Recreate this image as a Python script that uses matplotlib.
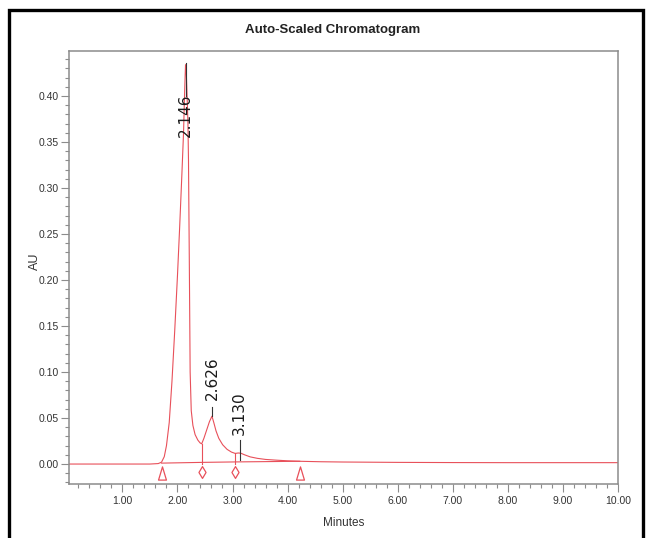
import numpy as np
import matplotlib
matplotlib.use("Agg")
import matplotlib.pyplot as plt
from matplotlib import font_manager
from matplotlib.path import Path
from matplotlib.ticker import MultipleLocator, FormatStrFormatter

# condensed font if we have one
names = {f.name for f in font_manager.fontManager.ttflist}
narrow = 'Liberation Sans Narrow' if 'Liberation Sans Narrow' in names else 'Liberation Sans'

# chromatogram trace (minutes, AU)
minutes = [0.03, 0.5, 1.0, 1.5, 1.65, 1.71, 1.76, 1.80, 1.85, 1.90, 1.95, 2.00,
           2.04, 2.08, 2.11, 2.13, 2.146, 2.16, 2.18, 2.19, 2.20, 2.215, 2.23,
           2.25, 2.28, 2.32, 2.37, 2.41, 2.44, 2.48, 2.53, 2.58, 2.626, 2.66,
           2.70, 2.75, 2.82, 2.90, 2.98, 3.05, 3.10, 3.15, 3.22, 3.32, 3.45,
           3.60, 3.80, 4.00, 4.22, 4.6, 5.0, 6.0, 7.0, 8.0, 9.0, 10.0]
au = [0.0, 0.0, 0.0, 0.0, 0.0005, 0.002, 0.008, 0.020, 0.045, 0.090, 0.145, 0.205,
      0.258, 0.315, 0.360, 0.405, 0.434, 0.425, 0.390, 0.370, 0.330, 0.220, 0.100,
      0.058, 0.042, 0.032, 0.026, 0.023, 0.022, 0.028, 0.037, 0.046, 0.052, 0.045,
      0.036, 0.028, 0.021, 0.016, 0.013, 0.0115, 0.012, 0.0118, 0.010, 0.0078, 0.0062,
      0.005, 0.0042, 0.0035, 0.003, 0.0025, 0.0022, 0.0018, 0.0016, 0.0015, 0.0015, 0.0015]

# integration baseline points and drop lines
base_t = [1.71, 2.44, 3.05, 4.22]
base_v = [0.001, 0.0018, 0.0023, 0.003]
drop_t = [2.44, 3.05]
drop_top = [0.022, 0.0115]
start_end_t = [1.71, 4.22]

# peak labels: retention time, line bottom, line top, label centre
peak_rt = [2.146, 2.626, 3.130]
line_lo = [0.400, 0.052, 0.004]
line_hi = [0.436, 0.062, 0.026]
label_y = [0.379, 0.0935, 0.055]

red = '#e8505a'
grey = '#8c8c8c'

fig = plt.figure(figsize=(6.47, 5.38), dpi=100)
ax = fig.add_axes([69/647, 1 - 484/538, (618-69)/647, (484-51)/538])

ax.plot(minutes, au, color=red, lw=0.8)
ax.plot(base_t, base_v, color=red, lw=0.8)
for t, top in zip(drop_t, drop_top):
    ax.plot([t, t], [0.0, top], color=red, lw=0.8)

tri = Path([(-0.3, -0.5), (0.3, -0.5), (0.0, 0.5), (-0.3, -0.5)], closed=True)
dia = Path([(0, 0.5), (0.3, 0), (0, -0.5), (-0.3, 0), (0, 0.5)], closed=True)
ax.plot(start_end_t, [-0.0098] * 2, ls='none', marker=tri, ms=9.5,
        mfc='white', mec=red, mew=0.9)
ax.plot(drop_t, [-0.0087] * 2, ls='none', marker=dia, ms=8.5,
        mfc='white', mec=red, mew=0.9)

for rt, lo, hi, ly in zip(peak_rt, line_lo, line_hi, label_y):
    ax.plot([rt, rt], [lo, hi], color='#333333', lw=0.8)
    ax.text(rt, ly, f"{rt:.3f}", rotation=90, ha='center', va='center',
            fontsize=11, color='#1a1a1a', family='DejaVu Sans')

ax.set_xlim(0.03, 10.0)
ax.set_ylim(-0.0217, 0.449)

ax.xaxis.set_major_locator(MultipleLocator(1.0))
ax.xaxis.set_minor_locator(MultipleLocator(0.2))
ax.yaxis.set_major_locator(MultipleLocator(0.05))
ax.yaxis.set_minor_locator(MultipleLocator(0.01))
ax.xaxis.set_major_formatter(FormatStrFormatter('%.2f'))
ax.yaxis.set_major_formatter(FormatStrFormatter('%.2f'))
ax.tick_params(which='major', length=6, width=0.8, color=grey, labelsize=7.5,
               labelcolor='#333333', pad=1.5)
ax.tick_params(axis='x', which='major', pad=3)
ax.tick_params(which='minor', length=3, width=0.8, color=grey)
for lab in ax.get_xticklabels() + ax.get_yticklabels():
    lab.set_family(narrow)

for s in ax.spines.values():
    s.set_color(grey)
    s.set_linewidth(1.1)

ax.set_xlabel('Minutes', fontsize=8.5, family=narrow, color='#333333')
ax.set_ylabel('AU', fontsize=9, family=narrow, color='#333333')
ax.xaxis.set_label_coords(0.5, -(517 - 484) / 433)
ax.yaxis.set_label_coords(-(69 - 41) / 549, (484 - 261) / 433)

fig.text(333/647, 1 - 30/538, 'Auto-Scaled Chromatogram', ha='center', va='center',
         fontsize=9.5, fontweight='bold', family=narrow, color='#222222')

# outer black frame
frame = plt.Rectangle((9/647, -0.01), (643-9)/647, 1.01 - 10/538, transform=fig.transFigure,
                      fill=False, ec='black', lw=2.4)
fig.add_artist(frame)

fig.savefig('out.png', dpi=100)
